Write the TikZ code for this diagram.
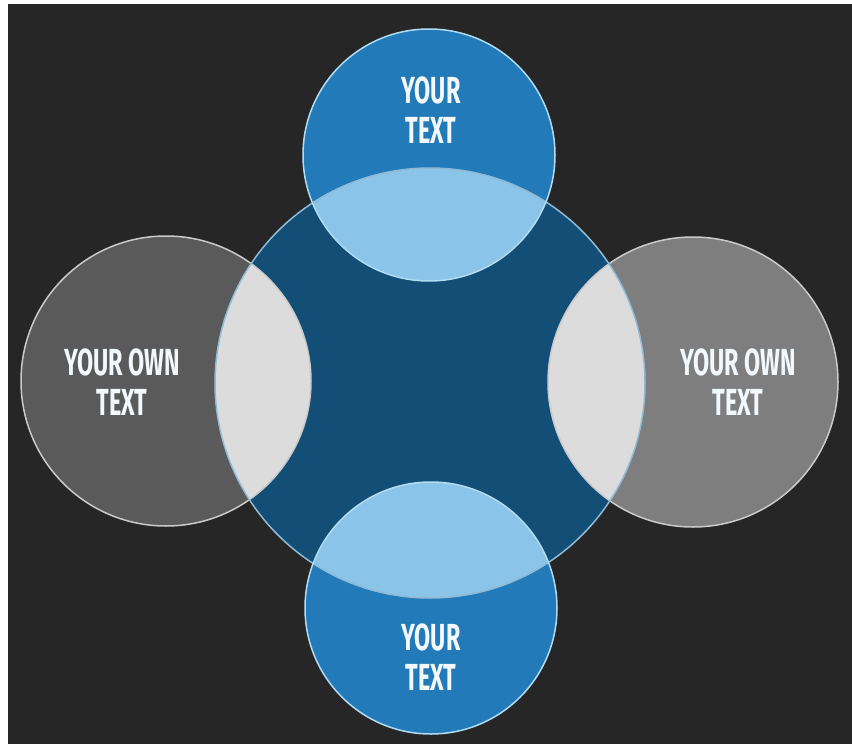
\documentclass[tikz,border=0pt]{standalone}
\usepackage{fontspec}
\setmainfont{Fira Sans}
\newfontfamily\narrowfont[FakeStretch=0.62]{Fira Sans}
\usepackage{xcolor}
\usepackage{tikz}

\definecolor{bgdark}{HTML}{262626}
\definecolor{hubblue}{HTML}{134E76}
\definecolor{petalblue}{HTML}{227AB8}
\definecolor{lensblue}{HTML}{8AC4E9}
\definecolor{greydark}{HTML}{5A5A5A}
\definecolor{greylight}{HTML}{7E7E7E}
\definecolor{lensgrey}{HTML}{DCDCDC}
\definecolor{hubline}{HTML}{8FBAD6}
\definecolor{petalline}{HTML}{B0DCF4}
\definecolor{greyline}{HTML}{CACACA}
\definecolor{labelwhite}{HTML}{F2F8FC}

\begin{document}
\begin{tikzpicture}[
    x=1pt, y=-1pt,
    hubline/.style={draw=hubline, line width=1.5pt},
    petalline/.style={draw=petalline, line width=1.5pt},
    greyline/.style={draw=greyline, line width=1.5pt},
    label/.style={font=\narrowfont\bfseries\fontsize{37.7}{40}\selectfont, align=center, text=labelwhite, inner sep=0pt}
]

% background
\useasboundingbox (0,0) rectangle (852,744);
\clip (0,0) rectangle (852,744);
\fill[white] (0,0) rectangle (852,744);
\fill[bgdark] (8,4) rectangle (860,752);

% circle centres
\coordinate (hub) at (430,383);
\coordinate (north) at (429,155);
\coordinate (south) at (431,608);
\coordinate (west) at (166,381);
\coordinate (east) at (693,382);

% filled discs
\fill[hubblue] (hub) circle (215pt);
\fill[petalblue] (north) circle (126pt);
\fill[petalblue] (south) circle (126pt);
\fill[greydark] (west) circle (145pt);
\fill[greylight] (east) circle (145pt);

% overlaps
\begin{scope}
  \clip (hub) circle (215pt);
  \fill[lensblue] (north) circle (126pt);
  \fill[lensblue] (south) circle (126pt);
  \fill[lensgrey] (west) circle (145pt);
  \fill[lensgrey] (east) circle (145pt);
\end{scope}

% outlines
\draw[greyline] (west) circle (145pt);
\draw[greyline] (east) circle (145pt);
\draw[hubline] (hub) circle (215pt);
\draw[petalline] (north) circle (126pt);
\draw[petalline] (south) circle (126pt);

% labels
\node[label] (northtext) at (431,110) {YOUR\\TEXT};
\node[label] (southtext) at (431,657) {YOUR\\TEXT};
\node[label] (westtext) at (122,382) {YOUR OWN\\TEXT};
\node[label] (easttext) at (738,382) {YOUR OWN\\TEXT};

\end{tikzpicture}
\end{document}
